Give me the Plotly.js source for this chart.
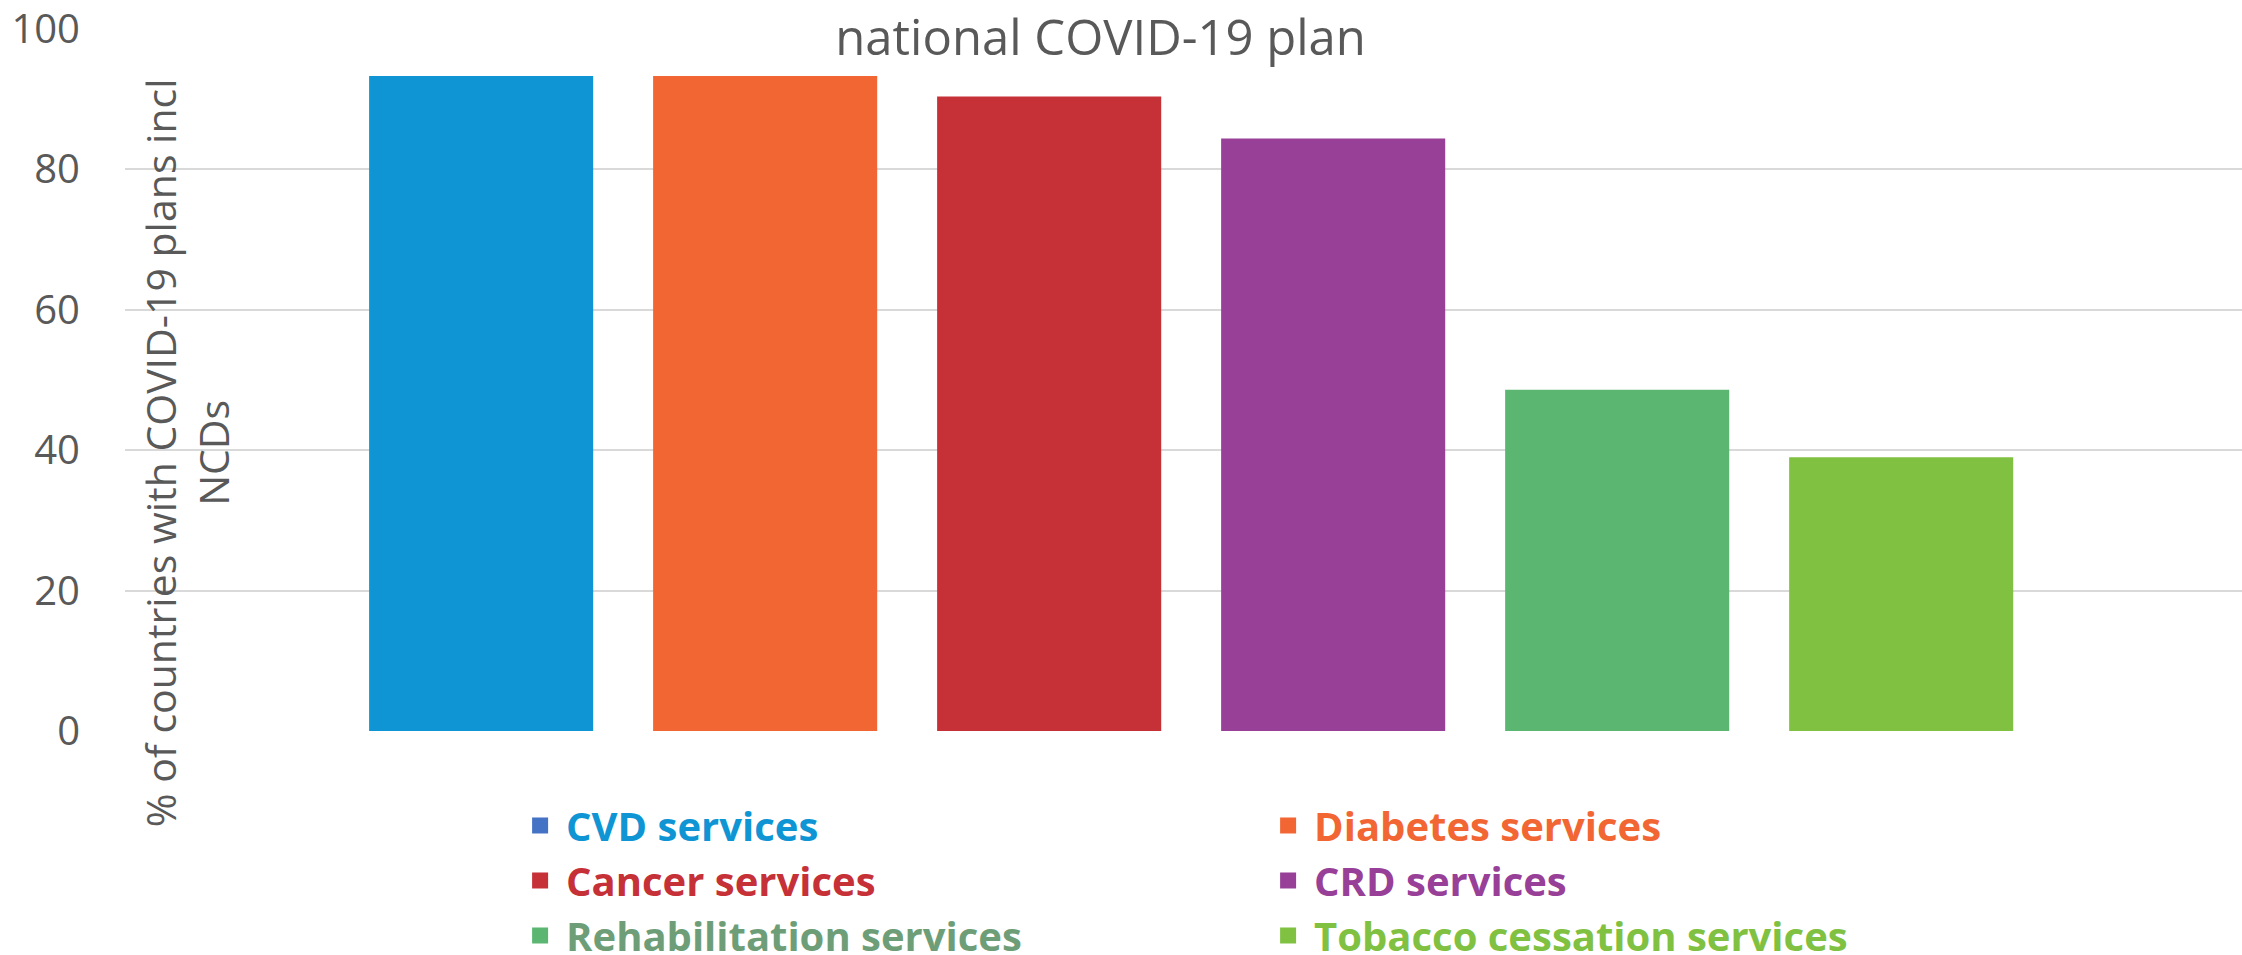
<!DOCTYPE html>
<html>
<head>
<meta charset="utf-8">
<script src="https://cdn.plot.ly/plotly-3.0.1.min.js"></script>
<style>
  html, body { margin: 0; padding: 0; background: #ffffff; }
  #chart { width: 2242px; height: 955px; }
</style>
</head>
<body>
<div id="chart"></div>
<script>
// ---- data ----
const categories = ["CVD services", "Diabetes services", "Cancer services", "CRD services", "Rehabilitation services", "Tobacco cessation services"];
const values = [93.3, 93.3, 90.4, 84.4, 48.6, 39.0];
const barColors = ["#0F94D4", "#F26634", "#C63037", "#983F98", "#5BB672", "#80C142"];
const legendSymbolColors = ["#4472C4", "#F26634", "#C63037", "#983F98", "#5BB672", "#80C142"];
const legendTextColors = ["#0F95D4", "#F26634", "#C63037", "#983F98", "#6E9E78", "#80C142"];
const yTicks = [0, 20, 40, 60, 80, 100];
const chartTitle = "national COVID-19 plan";
const yTitle = "% of countries with COVID-19 plans incl<br>NCDs";

const FONT = "'Open Sans', 'Noto Sans', sans-serif";
const GREY = "#595959";

const traces = [];
categories.forEach((c, i) => {
  traces.push({
    type: "bar",
    x: [c],
    y: [values[i]],
    marker: { color: barColors[i] },
    showlegend: false,
    hoverinfo: "x+y"
  });
});
categories.forEach((c, i) => {
  traces.push({
    type: "scatter",
    mode: "markers",
    x: [null],
    y: [null],
    name: '<span style="color:' + legendTextColors[i] + '">' + c + '</span>',
    marker: { symbol: "square", size: 16, color: legendSymbolColors[i] },
    showlegend: true
  });
});

const layout = {
  width: 2242,
  height: 955,
  margin: { l: 125, r: 0, t: 29, b: 224, pad: 0, autoexpand: false },
  paper_bgcolor: "#ffffff",
  plot_bgcolor: "#ffffff",
  barmode: "overlay",
  bargap: 0.211,
  font: { family: FONT, color: GREY },
  title: {
    text: chartTitle,
    font: { family: FONT, size: 49, color: GREY },
    x: 0.4909, xref: "container", xanchor: "center",
    y: 1 - 38 / 955, yref: "container", yanchor: "middle"
  },
  xaxis: {
    type: "category",
    categoryorder: "array",
    categoryarray: categories,
    range: [-1.254, 6.2],
    showticklabels: false,
    showgrid: false,
    zeroline: false,
    showline: false,
    ticks: ""
  },
  yaxis: {
    range: [0, 100],
    tickvals: yTicks,
    ticktext: yTicks.map(String),
    showgrid: true,
    gridcolor: "#D9D9D9",
    gridwidth: 2,
    zeroline: false,
    showline: false,
    ticks: "",
    ticklabelstandoff: 44,
    tickfont: { family: FONT, size: 40, color: GREY }
  },
  legend: {
    orientation: "h",
    x: 0.1838,
    xanchor: "left",
    y: -0.0883,
    yanchor: "top",
    itemwidth: 42,
    entrywidth: 691,
    entrywidthmode: "pixels",
    font: { family: FONT, size: 40, color: GREY, weight: "bold" },
    bgcolor: "rgba(0,0,0,0)",
    traceorder: "normal"
  },
  annotations: [{
    text: yTitle,
    textangle: -90,
    xref: "paper", yref: "paper",
    x: 0.0288, y: 0.397,
    xanchor: "center", yanchor: "middle",
    showarrow: false,
    align: "center",
    font: { family: FONT, size: 41, color: GREY }
  }]
};

Plotly.newPlot("chart", traces, layout, { displayModeBar: false, staticPlot: true });
</script>
</body>
</html>
